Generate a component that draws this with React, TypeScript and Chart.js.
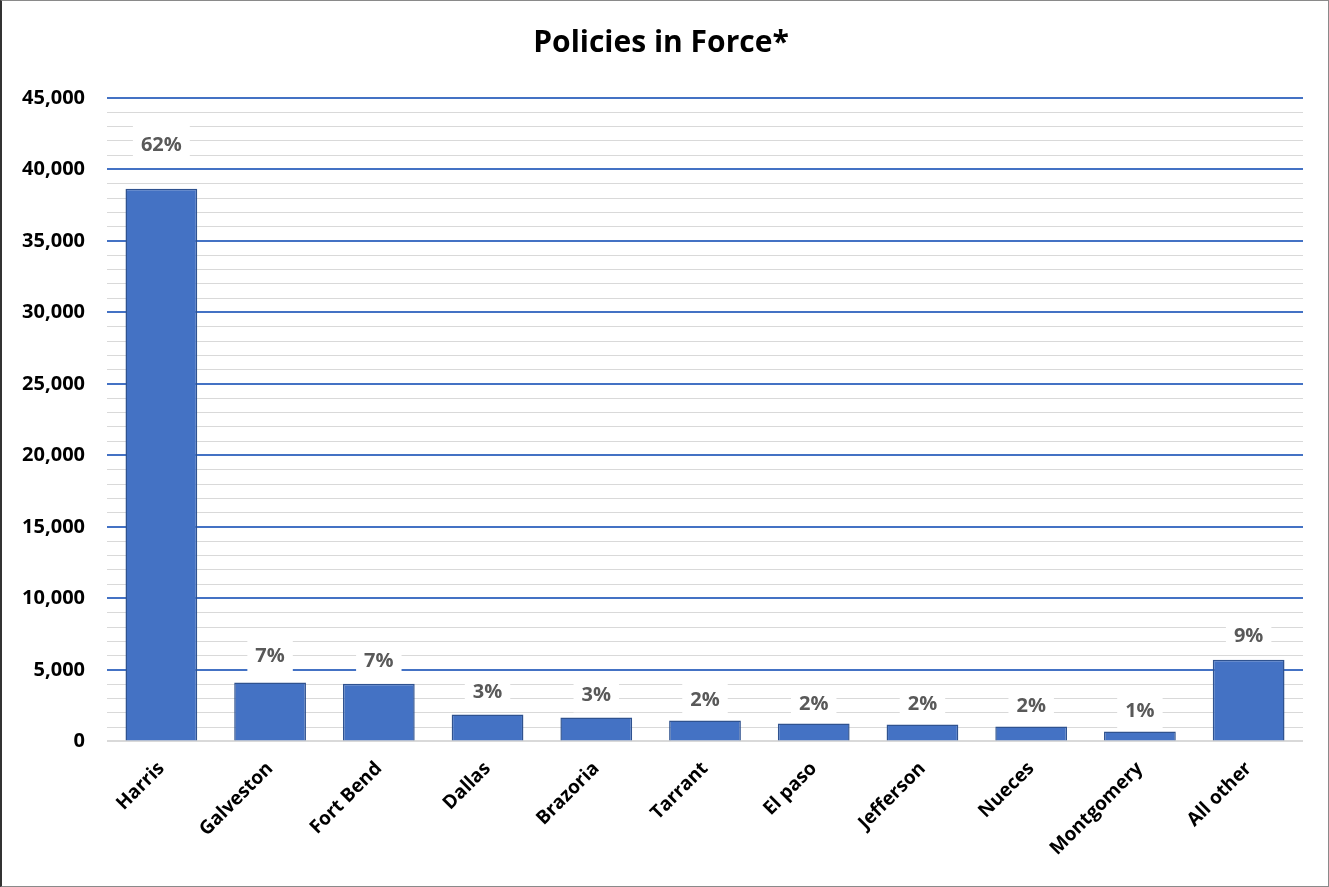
import React, { useEffect, useRef } from "react";
import { Chart, registerables } from "chart.js";

Chart.register(...registerables);

const categories = ["Harris", "Galveston", "Fort Bend", "Dallas", "Brazoria", "Tarrant", "El paso", "Jefferson", "Nueces", "Montgomery", "All other"];
const policies = [38650, 4130, 4040, 1890, 1680, 1470, 1260, 1190, 1050, 700, 5720];
const shareLabels = ["62%", "7%", "7%", "3%", "3%", "2%", "2%", "2%", "2%", "1%", "9%"];
const labelLift = [45, 27, 23, 23, 23, 21, 20, 21, 21, 21, 24];

const FONT = "'Open Sans', 'Liberation Sans', sans-serif";

const labelPlugin = {
  id: "shareLabels",
  afterDatasetsDraw(chart: any) {
    const ctx = chart.ctx;
    const meta = chart.getDatasetMeta(0);
    ctx.save();
    ctx.font = `bold 20px ${FONT}`;
    ctx.textAlign = "center";
    ctx.textBaseline = "middle";
    meta.data.forEach((bar: any, i: number) => {
      const x = bar.x;
      const y = bar.y - labelLift[i];
      const w = ctx.measureText(shareLabels[i]).width + 16;
      const h = 36;
      ctx.fillStyle = "#ffffff";
      ctx.fillRect(x - w / 2, y - h / 2, w, h);
      ctx.fillStyle = "#595959";
      ctx.fillText(shareLabels[i], x, y + 1);
    });
    ctx.restore();
  },
};

export default function App() {
  const ref = useRef<HTMLCanvasElement>(null);
  useEffect(() => {
    document.body.style.margin = "0";
    const chart = new Chart(ref.current!, {
      type: "bar",
      data: {
        labels: categories,
        datasets: [
          {
            data: policies,
            backgroundColor: "#4472C4",
            borderColor: "#2F528F",
            borderWidth: 1.5,
            categoryPercentage: 1,
            barPercentage: 0.66,
          },
        ],
      },
      options: {
        animation: false,
        responsive: false,
        maintainAspectRatio: false,
        layout: { autoPadding: false, padding: { left: 17, right: 25, top: 10, bottom: 18 } },
        plugins: {
          legend: { display: false },
          tooltip: { enabled: false },
          title: {
            display: true,
            text: "Policies in Force*",
            color: "#000000",
            font: { family: FONT, size: 30, weight: "bold" },
            padding: { top: 14, bottom: 37 },
          },
        },
        scales: {
          x: {
            grid: { display: false },
            border: { display: false },
            ticks: {
              color: "#000000",
              font: { family: FONT, size: 19, weight: "bold" },
              maxRotation: 45,
              minRotation: 45,
              padding: 8,
            },
          },
          y: {
            min: 0,
            max: 45000,
            border: { display: false },
            afterFit: (s: any) => {
              s.width = 88;
            },
            grid: {
              drawTicks: false,
              color: (c: any) => (c.tick && c.tick.value % 5000 === 0 && c.tick.value !== 0 ? "#4472C4" : "#D9D9D9"),
              lineWidth: (c: any) => (c.tick && c.tick.value % 5000 === 0 ? 2 : 1),
            },
            ticks: {
              stepSize: 1000,
              autoSkip: false,
              padding: 22,
              color: "#000000",
              font: { family: FONT, size: 20, weight: "bold" },
              callback: (v: any) => (Number(v) % 5000 === 0 ? Number(v).toLocaleString("en-US") : ""),
            },
          },
        },
      },
      plugins: [labelPlugin],
    });
    return () => chart.destroy();
  }, []);
  return (
    <div style={{ position: "absolute", left: 0, top: 0, width: 1329, height: 887, boxSizing: "border-box", border: "1px solid #8a8a8a", borderLeft: "2px solid #333", background: "#fff" }}>
      <canvas ref={ref} width={1326} height={885} style={{ display: "block" }} />
    </div>
  );
}
